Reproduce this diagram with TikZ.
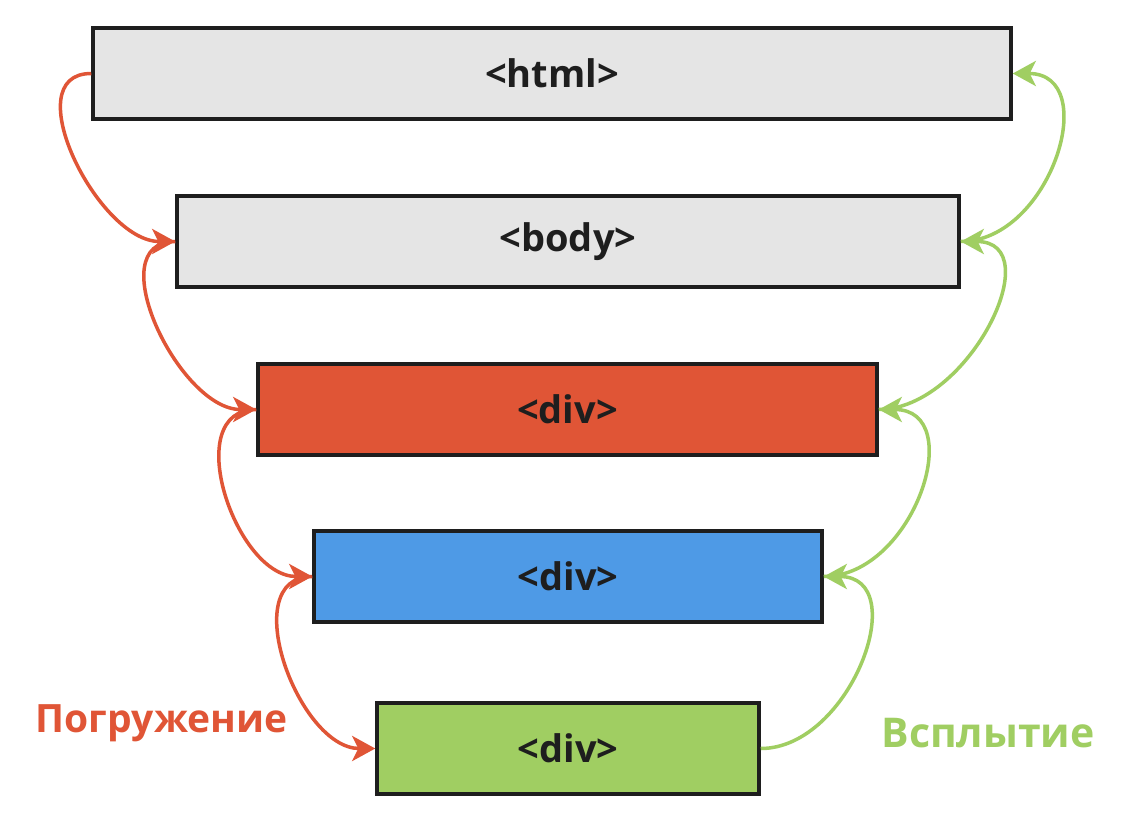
\documentclass[tikz,border=0pt]{standalone}
\usepackage{fontspec}
\setmainfont{Open Sans}
\usetikzlibrary{arrows.meta}
\definecolor{boxline}{HTML}{1E1E1E}
\definecolor{grayfill}{HTML}{E5E5E5}
\definecolor{redc}{HTML}{E05536}
\definecolor{bluec}{HTML}{4E9AE6}
\definecolor{greenc}{HTML}{A0CE62}
\definecolor{textc}{HTML}{1E1E1E}
\tikzset{
  box/.style={draw=boxline, line width=3.5pt, minimum height=91pt, inner sep=0pt,
    font=\fontsize{38}{44}\selectfont\bfseries, text=textc},
  capture/.style={draw=redc, line width=3.5pt, -{Stealth[length=23pt,width=25pt,inset=6pt]}},
  bubble/.style={draw=greenc, line width=3.5pt, -{Stealth[length=23pt,width=25pt,inset=6pt]}},
  lbl/.style={anchor=base, inner sep=0pt}
}
\begin{document}
\begin{tikzpicture}[x=1pt,y=-1pt]
\useasboundingbox (0,0) rectangle (1144,838);
\fill[white] (0,0) rectangle (1144,838);
\node[box, fill=grayfill, minimum width=918pt] (html) at (552,73.5) {<html>};
\node[box, fill=grayfill, minimum width=782pt] (body) at (568,241.5) {<body>};
\node[box, fill=redc, minimum width=619pt] (div1) at (567.5,409.5) {<div>};
\node[box, fill=bluec, minimum width=508pt] (div2) at (568,576.5) {<div>};
\node[box, fill=greenc, minimum width=382pt] (div3) at (568,748.5) {<div>};
% capture (red)
\draw[capture] (html.west) .. controls +(-77,0) and +(-77,0) .. (body.west);
\draw[capture] (body.west) .. controls +(-77,0) and +(-77,0) .. (div1.west);
\draw[capture] (div1.west) .. controls +(-77,0) and +(-77,0) .. (div2.west);
\draw[capture] (div2.west) .. controls +(-77,0) and +(-77,0) .. (div3.west);
% bubbling (green)
\draw[bubble] (div3.east) .. controls +(90,0) and +(90,0) .. (div2.east);
\draw[bubble] (div2.east) .. controls +(90,0) and +(90,0) .. (div1.east);
\draw[bubble] (div1.east) .. controls +(90,0) and +(90,0) .. (body.east);
\draw[bubble] (body.east) .. controls +(90,0) and +(90,0) .. (html.east);
\node[lbl, text=redc, font=\fontsize{39}{44}\selectfont\bfseries] (cap) at (161.5,732) {Погружение};
\node[lbl, text=greenc, font=\fontsize{41}{46}\selectfont\bfseries] (bub) at (988,747) {Всплытие};
\end{tikzpicture}
\end{document}
